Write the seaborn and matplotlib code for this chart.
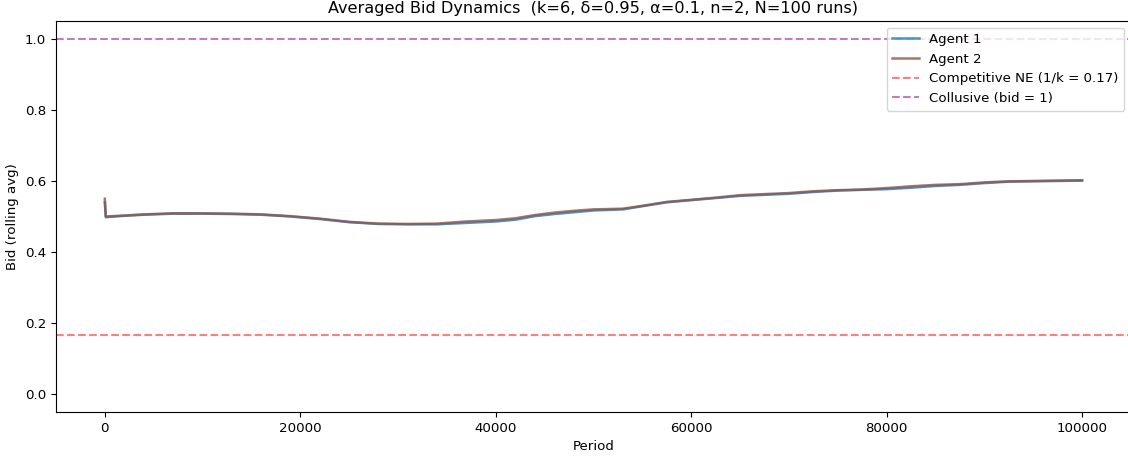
import numpy as np
import pandas as pd
import matplotlib
matplotlib.use("Agg")
import matplotlib.pyplot as plt
import seaborn as sns

periods = [0, 100, 1500, 4000, 7000, 10000, 13000, 16000, 19000, 22000, 25000,
           28000, 31000, 34000, 37000, 40000, 42000, 44000, 46000, 48000, 50000,
           53000, 55000, 57500, 60000, 62500, 65000, 67500, 70000, 72500, 75000,
           77500, 80000, 82500, 85000, 87500, 90000, 92500, 95000, 97500, 100000]
agent1 = [0.540, 0.498, 0.501, 0.505, 0.508, 0.508, 0.507, 0.505, 0.500, 0.493, 0.484,
          0.479, 0.478, 0.478, 0.482, 0.486, 0.491, 0.501, 0.507, 0.512, 0.517,
          0.520, 0.529, 0.540, 0.546, 0.552, 0.558, 0.561, 0.564, 0.569, 0.573,
          0.575, 0.577, 0.581, 0.586, 0.589, 0.594, 0.598, 0.599, 0.600, 0.601]
agent2 = [0.550, 0.500, 0.502, 0.506, 0.509, 0.509, 0.508, 0.506, 0.501, 0.494, 0.485,
          0.480, 0.479, 0.480, 0.486, 0.490, 0.495, 0.504, 0.511, 0.516, 0.520,
          0.522, 0.530, 0.541, 0.547, 0.553, 0.560, 0.563, 0.566, 0.571, 0.574,
          0.576, 0.580, 0.585, 0.589, 0.591, 0.596, 0.599, 0.600, 0.601, 0.602]
k = 6
ne_bid = 1 / k
collusive_bid = 1.0

df = pd.DataFrame({
    "Period": periods * 2,
    "Bid": agent1 + agent2,
    "Agent": ["Agent 1"] * len(periods) + ["Agent 2"] * len(periods),
})

plt.rcParams.update({
    "font.size": 9.65,
    "axes.labelsize": 9.65,
    "xtick.labelsize": 9.65,
    "ytick.labelsize": 9.65,
    "legend.fontsize": 9.65,
})
fig = plt.figure(figsize=(11.28, 4.57), dpi=100)
ax = fig.add_axes([0.0496, 0.0985, 0.953, 0.8555])

sns.lineplot(data=df, x="Period", y="Bid", hue="Agent",
             palette={"Agent 1": "tab:blue", "Agent 2": "tab:brown"},
             alpha=0.8, linewidth=1.8, ax=ax)
ax.axhline(ne_bid, color="red", linestyle="--", alpha=0.5, linewidth=1.5,
           label=f"Competitive NE (1/k = {ne_bid:.2f})")
ax.axhline(collusive_bid, color="purple", linestyle="--", alpha=0.5, linewidth=1.5,
           label="Collusive (bid = 1)")

ax.set_ylim(-0.05, 1.05)
ax.set_xlim(-5000, 105000)
ax.set_xlabel("Period")
ax.set_ylabel("Bid (rolling avg)")
ax.set_title("Averaged Bid Dynamics  (k=6, δ=0.95, α=0.1, n=2, N=100 runs)", fontsize=11.6)
ax.legend(loc="upper right", title=None)

fig.savefig("out.png", dpi=100)
